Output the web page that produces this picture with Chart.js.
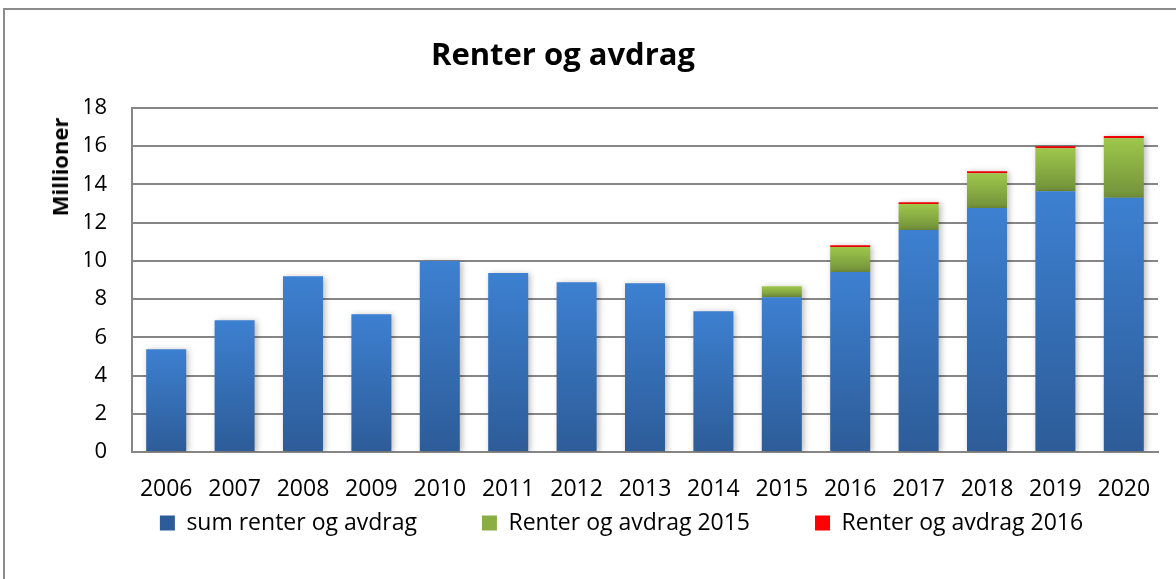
<!DOCTYPE html>
<html>
<head>
<meta charset="utf-8">
<script src="https://cdn.jsdelivr.net/npm/chart.js@4.4.1/dist/chart.umd.min.js"></script>
<style>
  html, body { margin: 0; padding: 0; background: #fff; overflow: hidden; }
  #wrap { position: relative; width: 1176px; height: 579px; overflow: hidden; }
  #frame { position: absolute; left: 3px; top: 8px; width: 1400px; height: 800px;
           border-top: 2px solid #8c8c8c; border-left: 2px solid #8c8c8c; }
  #c { position: absolute; left: 0; top: 0; }
  #title { position: absolute; left: 0; width: 1126px; top: 38px; text-align: center;
           font-family: "Open Sans", sans-serif; font-weight: bold; font-size: 31px; line-height: 31px; color: #000; }
  #ytitle { position: absolute; left: 59px; top: 167px; transform: translate(-50%, -50%) rotate(-90deg);
            font-family: "Open Sans", sans-serif; font-weight: bold; font-size: 22px; line-height: 22px;
            white-space: nowrap; color: #000; }
</style>
</head>
<body>
<div id="wrap">
  <div id="frame"></div>
  <canvas id="c" width="1176" height="579"></canvas>
  <div id="title">Renter og avdrag</div>
  <div id="ytitle">Millioner</div>
</div>
<script>
const categories = ["2006","2007","2008","2009","2010","2011","2012","2013","2014","2015","2016","2017","2018","2019","2020"];
const sumRenterOgAvdrag = [5.38, 6.9, 9.2, 7.21, 10.0, 9.36, 8.88, 8.83, 7.37, 8.1, 9.42, 11.61, 12.77, 13.65, 13.3];
const renterOgAvdrag2015 = [null, null, null, null, null, null, null, null, null, 0.57, 1.31, 1.37, 1.82, 2.25, 3.12];
const renterOgAvdrag2016 = [null, null, null, null, null, null, null, null, null, null, 0.09, 0.09, 0.1, 0.1, 0.11];
const seriesNames = ["sum renter og avdrag", "Renter og avdrag 2015", "Renter og avdrag 2016"];
const yTicks = [0, 2, 4, 6, 8, 10, 12, 14, 16, 18];

const allSeries = [sumRenterOgAvdrag, renterOgAvdrag2015, renterOgAvdrag2016];

function barGradient(dsIndex, topCol, botCol, flat) {
  return function(ctx) {
    const chart = ctx.chart;
    const ys = chart.scales && chart.scales.y;
    if (ctx.type !== 'data' || !ys || !chart.chartArea) return flat;
    let base = 0;
    for (let k = 0; k < dsIndex; k++) base += (allSeries[k][ctx.dataIndex] || 0);
    const v = ctx.raw || 0;
    const y1 = ys.getPixelForValue(base + v);
    const y0 = ys.getPixelForValue(base);
    if (!isFinite(y1) || !isFinite(y0) || Math.abs(y0 - y1) < 1) return flat;
    const g = chart.ctx.createLinearGradient(0, y1, 0, y0);
    g.addColorStop(0, topCol);
    g.addColorStop(1, botCol);
    return g;
  };
}

const shadowPlugin = {
  id: 'barShadow',
  beforeDatasetsDraw(chart) {
    const c = chart.ctx;
    c.save();
    c.shadowColor = 'rgba(0,0,0,0.28)';
    c.shadowBlur = 6;
    c.shadowOffsetX = 2;
    c.shadowOffsetY = 1;
  },
  afterDatasetsDraw(chart) { chart.ctx.restore(); }
};

// Place the legend row at the intended height (Chart.js uses labels.padding both
// horizontally and vertically; only the horizontal gap is wanted here).
const legendShift = {
  id: 'legendShift',
  afterLayout(chart) {
    const l = chart.legend;
    if (l) {
      const d = (l.top + 65) - 511.5;
      l.top -= d;
      l.bottom = chart.height;
      l.height = l.bottom - l.top;
    }
  }
};

new Chart(document.getElementById('c'), {
  type: 'bar',
  data: {
    labels: categories,
    datasets: [
      { label: seriesNames[0], data: sumRenterOgAvdrag,
        backgroundColor: barGradient(0, '#3d80d1', '#2d5c98', '#3670b8'), borderWidth: 0,
        barPercentage: 0.585, categoryPercentage: 1.0 },
      { label: seriesNames[1], data: renterOgAvdrag2015,
        backgroundColor: barGradient(1, '#9ec74b', '#72913a', '#8aae44'), borderWidth: 0,
        barPercentage: 0.585, categoryPercentage: 1.0 },
      { label: seriesNames[2], data: renterOgAvdrag2016,
        backgroundColor: '#ff0000', borderWidth: 0,
        barPercentage: 0.585, categoryPercentage: 1.0 }
    ]
  },
  options: {
    responsive: false,
    animation: false,
    devicePixelRatio: 1,
    layout: { padding: { top: 108, left: 85, right: 18, bottom: 0 } },
    plugins: {
      title: { display: false },
      tooltip: { enabled: false },
      legend: {
        position: 'bottom',
        align: 'center',
        maxHeight: 77,
        labels: {
          boxWidth: 15, boxHeight: 15, padding: 65,
          color: '#000',
          font: { family: '"Open Sans", sans-serif', size: 23 }
        }
      }
    },
    scales: {
      x: {
        stacked: true,
        afterFit(axis) { axis.height = 50; },
        grid: { display: false, drawTicks: false },
        border: { display: true, color: '#868686', width: 2 },
        ticks: { color: '#000', padding: 24, maxRotation: 0,
                 font: { family: '"Open Sans", sans-serif', size: 23 } }
      },
      y: {
        stacked: true,
        min: 0, max: 18,
        afterBuildTicks(axis) { axis.ticks = yTicks.map(v => ({ value: v })); },
        afterFit(axis) { axis.width = 47; },
        grid: { color: '#868686', lineWidth: 2, drawTicks: false },
        border: { display: true, color: '#868686', width: 2 },
        ticks: { color: '#000', padding: 25,
                 font: { family: '"Open Sans", sans-serif', size: 22 } }
      }
    }
  },
  plugins: [shadowPlugin, legendShift]
});
</script>
</body>
</html>
